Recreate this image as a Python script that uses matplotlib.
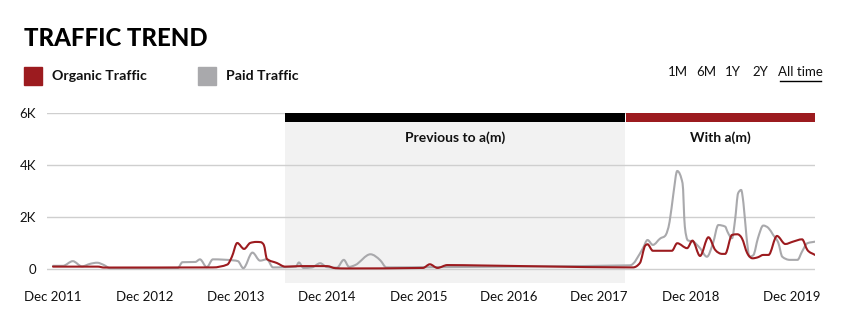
import numpy as np
import matplotlib
matplotlib.use("Agg")
import matplotlib.pyplot as plt
from matplotlib.path import Path
from matplotlib.patches import PathPatch, Rectangle

# months since Dec 2011
organic_x = [0, 5.9, 6.7, 21.0, 22.9, 23.5, 24.2, 25.1, 25.9, 26.7, 27.3, 27.7, 28.1, 29.4,
             30.5, 32.5, 36.0, 37.1, 38.6, 48.6, 49.5, 50.5, 51.8, 56.1, 64.0, 75.8, 76.2,
             77.1, 77.8, 78.1, 78.8, 81.3, 82.0, 83.3, 84.0, 85.0, 86.1, 87.0, 87.9, 88.3,
             89.2, 89.9, 90.5, 91.2, 91.9, 92.6, 93.3, 94.0, 95.1, 96.2, 97.2, 98.4, 99.1, 100.1]
organic_y = [90, 90, 55, 60, 170, 470, 1000, 770, 1000, 1040, 1030, 920, 385, 230,
             90, 110, 110, 30, 20, 40, 180, 40, 150, 135, 100, 60, 60,
             230, 900, 950, 700, 700, 990, 800, 1090, 500, 1220, 730, 580, 580,
             1310, 1335, 1180, 605, 410, 450, 540, 540, 1270, 960, 1050, 1140, 730, 540]

paid_x = [0, 1.3, 2.6, 3.8, 4.9, 5.8, 6.7, 7.5, 16.4, 17.0, 18.7, 19.3, 20.2, 21.0, 23.7,
          24.3, 25.0, 26.2, 27.2, 28.1, 28.9, 31.9, 32.3, 32.9, 34.0, 35.1, 36.0, 37.3,
          38.2, 38.9, 39.7, 41.7, 43.0, 43.8, 49.5, 75.8, 77.5, 78.1, 78.8, 79.8, 80.4,
          81.0, 81.5, 82.0, 82.7, 83.0, 83.4, 84.1, 85.0, 85.9, 86.7, 87.4, 88.3, 88.6,
          89.2, 89.6, 90.0, 90.4, 90.7, 91.1, 91.5, 92.0, 92.6, 93.3, 94.0, 94.6, 95.3,
          95.8, 96.8, 97.8, 98.4, 99.1, 100.1]
paid_y = [120, 120, 300, 100, 200, 240, 150, 30, 40, 260, 270, 370, 70, 370, 330,
          300, 30, 630, 320, 370, 60, 90, 250, 40, 60, 220, 70, 50,
          350, 80, 150, 565, 330, 60, 70, 140, 800, 1115, 925, 1180, 1270,
          1820, 2900, 3770, 3300, 1630, 1100, 1050, 800, 470, 990, 1690, 1630, 1435,
          1180, 1890, 2915, 3040, 2530, 1245, 470, 530, 1180, 1670, 1570, 1310, 990,
          470, 350, 350, 670, 990, 1050]

tick_pos = [0, 12.1, 24.0, 36.0, 48.0, 59.9, 71.7, 83.8, 97.1]
tick_labels = ["Dec 2011", "Dec 2012", "Dec 2013", "Dec 2014", "Dec 2015",
               "Dec 2016", "Dec 2017", "Dec 2018", "Dec 2019"]

periods = ["Previous to a(m)", "With a(m)"]
period_start = [30.5, 75.3]
period_end = [75.2, 100.1]

RED = "#9c1b1f"
GREY = "#a9a9ac"
FONT = "Lato"

plt.rcParams["font.family"] = [FONT, "DejaVu Sans"]


def smooth_path(x, y):
    # monotone cubic through the points, drawn as bezier segments
    x = np.asarray(x, float)
    y = np.asarray(y, float)
    h = np.diff(x)
    d = np.diff(y) / h
    m = np.zeros(len(x))
    m[0], m[-1] = d[0], d[-1]
    for i in range(1, len(x) - 1):
        if d[i - 1] * d[i] <= 0:
            m[i] = 0
        else:
            p = (d[i - 1] * h[i] + d[i] * h[i - 1]) / (h[i - 1] + h[i])
            m[i] = np.sign(d[i]) * min(abs(d[i - 1]), abs(d[i]), 0.5 * abs(p)) * 2
    verts = [(x[0], y[0])]
    codes = [Path.MOVETO]
    for i in range(len(x) - 1):
        dx = h[i] / 3
        verts += [(x[i] + dx, y[i] + m[i] * dx),
                  (x[i + 1] - dx, y[i + 1] - m[i + 1] * dx),
                  (x[i + 1], y[i + 1])]
        codes += [Path.CURVE4] * 3
    return Path(verts, codes)


W, H = 845, 330
fig = plt.figure(figsize=(W / 100, H / 100), dpi=100)


def fx(px):
    return px / W


def fy(py):
    return 1 - py / H


ax = fig.add_axes([fx(47), fy(283), fx(815 - 47), fy(113) - fy(283)])
ax.set_xlim(-0.79, 100.1)
ax.set_ylim(-540, 6000)

# shaded period + top bars
ax.axvspan(period_start[0], period_end[0], color="#f2f2f2", zorder=0, lw=0)
for s, e, c, lab in zip(period_start, period_end, ["black", RED], periods):
    ax.add_patch(Rectangle((s, 5660), e - s, 340, color=c, lw=0, zorder=3))
    ax.text((s + e) / 2, 5060, lab, ha="center", va="center", fontsize=10,
            fontweight="bold", color="#111111", zorder=4)

for v in [0, 2000, 4000, 6000]:
    ax.axhline(v, color="#cfcfcf", lw=1, zorder=1)

ax.add_patch(PathPatch(smooth_path(paid_x, paid_y), fill=False, edgecolor=GREY,
                       lw=1.5, zorder=2, capstyle="round", joinstyle="round"))
ax.add_patch(PathPatch(smooth_path(organic_x, organic_y), fill=False, edgecolor=RED,
                       lw=1.5, zorder=2.5, capstyle="round", joinstyle="round"))

ax.set_yticks([0, 2000, 4000, 6000])
ax.set_yticklabels(["0", "2K", "4K", "6K"])
ax.set_xticks(tick_pos)
ax.set_xticklabels(tick_labels)
ax.tick_params(length=0, labelsize=9.5, colors="#111111")
ax.tick_params(axis="y", pad=8)
ax.tick_params(axis="x", pad=6)
for sp in ax.spines.values():
    sp.set_visible(False)
ax.set_facecolor("none")

# title and legend
fig.text(fx(24), fy(38), "TRAFFIC TREND", fontsize=17.2, fontweight="black",
         va="center", ha="left", color="black")
for px, c, lab in [(24, RED, "Organic Traffic"), (198, GREY, "Paid Traffic")]:
    fig.patches.append(Rectangle((fx(px), fy(85)), fx(18), fy(67) - fy(85), color=c,
                                 transform=fig.transFigure, figure=fig))
    fig.text(fx(px + 28), fy(76), lab, fontsize=10.2, fontweight="bold",
             va="center", ha="left", color="#111111")

# range selector
for px, lab in [(678, "1M"), (706, "6M"), (733, "1Y"), (760, "2Y"), (800, "All time")]:
    fig.text(fx(px), fy(72), lab, fontsize=9.5, ha="center", va="center", color="#111111")
fig.add_artist(plt.Line2D([fx(780), fx(821)], [fy(81), fy(81)], color="black", lw=1,
                          transform=fig.transFigure))

fig.savefig("out.png", dpi=100)
